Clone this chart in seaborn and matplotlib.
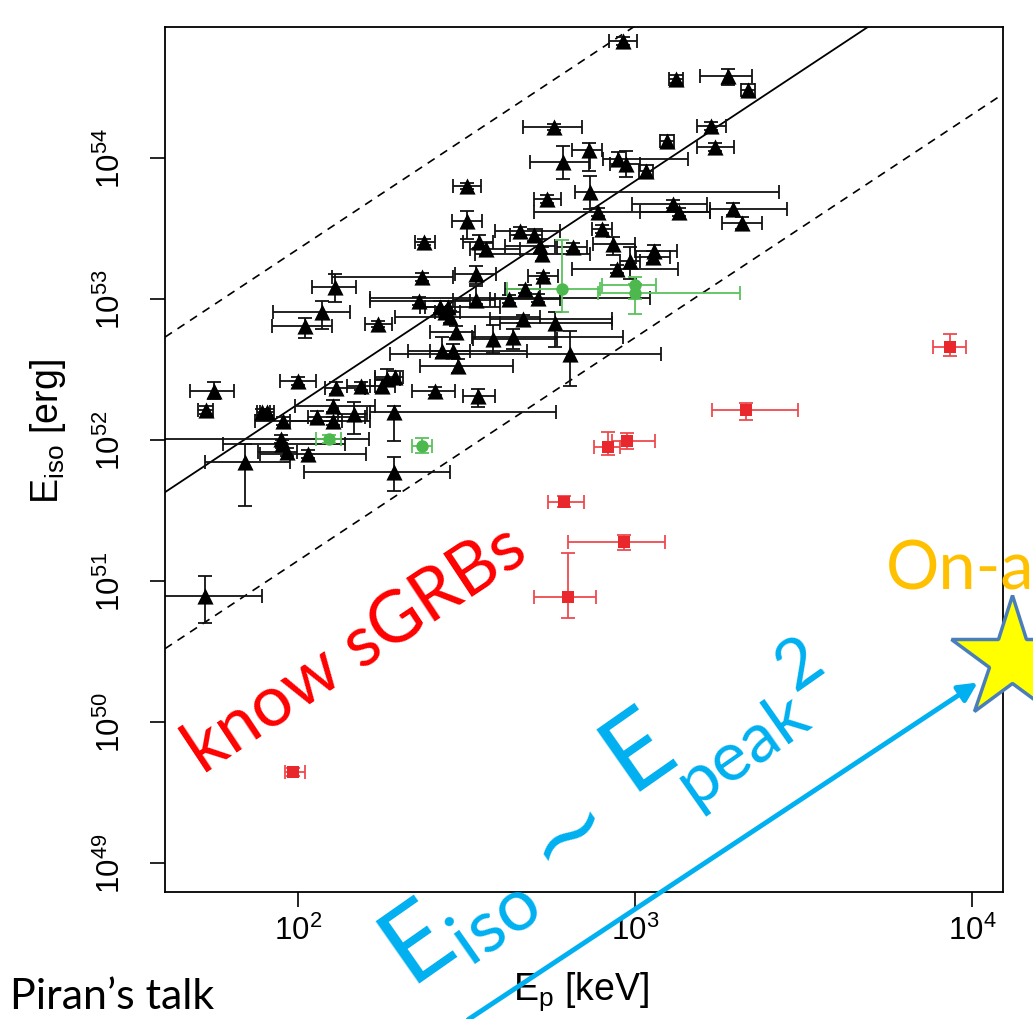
import numpy as np
import pandas as pd
import matplotlib
matplotlib.use("Agg")
import matplotlib.pyplot as plt
import seaborn as sns
from matplotlib.lines import Line2D
from matplotlib.patches import FancyArrowPatch
from matplotlib.ticker import FixedLocator, FuncFormatter, NullLocator

# Long GRBs: log10 Ep [keV], log10 Eiso [erg]; errors are in dex (left, right, down, up)
long_log_ep = [2.964, 3.122, 3.276, 3.335, 3.226, 3.237, 3.095, 2.760, 2.864, 2.786,
               2.950, 2.973, 3.033, 2.501, 2.866, 2.739, 2.890, 3.113, 3.131, 3.291,
               3.318, 2.902, 2.935, 3.056, 3.053, 2.985, 2.947, 2.659, 2.700, 2.718,
               2.724, 2.816, 2.537, 2.558, 2.374, 2.501, 2.528, 2.368, 2.727, 2.674,
               2.626, 2.712, 2.359, 2.421, 2.445, 2.436, 2.451, 2.668, 2.763, 2.579,
               2.638, 2.469, 2.427, 2.460, 2.475, 2.807, 2.288, 2.264, 2.249, 2.113,
               2.187, 2.407, 2.534, 2.285, 2.104, 2.056, 2.104, 2.166, 1.955, 1.893,
               1.908, 2.000, 1.751, 1.727, 2.110, 2.071, 2.021, 2.237, 1.950, 1.953,
               1.967, 2.030, 1.843, 2.285, 1.724, 2.528]
long_log_eiso = [54.830, 54.560, 54.582, 54.482, 54.227, 54.078, 54.121, 54.220, 54.057, 53.972,
                 53.993, 53.957, 53.908, 53.801, 53.759, 53.709, 53.617, 53.674, 53.617, 53.638,
                 53.539, 53.496, 53.390, 53.340, 53.298, 53.270, 53.213, 53.482, 53.454, 53.376,
                 53.319, 53.369, 53.404, 53.355, 53.404, 53.553, 53.177, 53.156, 53.163, 53.071,
                 53.000, 53.007, 52.986, 52.943, 52.943, 52.908, 52.872, 52.858, 52.830, 52.716,
                 52.730, 52.766, 52.631, 52.631, 52.525, 52.610, 52.447, 52.433, 52.383, 52.369,
                 52.383, 52.348, 52.312, 52.199, 52.241, 52.163, 52.135, 52.184, 52.135, 52.199,
                 52.199, 52.418, 52.348, 52.213, 53.085, 52.908, 52.809, 52.823, 52.007, 51.972,
                 51.915, 51.901, 51.844, 51.773, 50.894, 52.993]
long_ep_lo = [0.042, 0.020, 0.083, 0.020, 0.042, 0.053, 0.020, 0.092, 0.050, 0.098,
              0.045, 0.047, 0.020, 0.042, 0.045, 0.039, 0.190, 0.122, 0.116, 0.068,
              0.059, 0.030, 0.059, 0.056, 0.050, 0.030, 0.134, 0.074, 0.071, 0.104,
              0.199, 0.047, 0.047, 0.047, 0.027, 0.045, 0.062, 0.267, 0.045, 0.060,
              0.056, 0.499, 0.145, 0.045, 0.083, 0.030, 0.163, 0.098, 0.163, 0.059,
              0.122, 0.077, 0.101, 0.068, 0.113, 0.534, 0.059, 0.036, 0.036, 0.033,
              0.042, 0.068, 0.045, 0.071, 0.113, 0.027, 0.128, 0.047, 0.083, 0.015,
              0.020, 0.053, 0.071, 0.024, 0.068, 0.145, 0.098, 0.039, 0.390, 0.176,
              0.086, 0.142, 0.119, 0.267, 0.150, 0.068]
long_ep_hi = [0.042, 0.020, 0.071, 0.020, 0.045, 0.056, 0.020, 0.083, 0.039, 0.080,
              0.208, 0.042, 0.020, 0.042, 0.561, 0.042, 0.332, 0.101, 0.092, 0.160,
              0.059, 0.030, 0.065, 0.068, 0.050, 0.030, 0.181, 0.119, 0.024, 0.045,
              0.142, 0.042, 0.042, 0.100, 0.033, 0.045, 0.059, 0.092, 0.045, 0.045,
              0.151, 0.333, 0.151, 0.045, 0.154, 0.045, 0.267, 0.264, 0.169, 0.190,
              0.326, 0.056, 0.252, 0.050, 0.163, 0.270, 0.024, 0.039, 0.039, 0.086,
              0.042, 0.059, 0.050, 0.481, 0.125, 0.142, 0.110, 0.039, 0.175, 0.024,
              0.020, 0.053, 0.059, 0.021, 0.062, 0.083, 0.080, 0.042, 0.260, 0.187,
              0.030, 0.172, 0.134, 0.166, 0.169, 0.056]
long_eiso_lo = [0.03, 0.03, 0.064, 0.04, 0.03, 0.03, 0.04, 0.02, 0.15, 0.12,
                0.05, 0.09, 0.04, 0.02, 0.12, 0.03, 0.03, 0.03, 0.03, 0.04,
                0.04, 0.03, 0.08, 0.04, 0.04, 0.13, 0.03, 0.03, 0.04, 0.05,
                0.05, 0.03, 0.04, 0.04, 0.02, 0.13, 0.07, 0.03, 0.02, 0.03,
                0.03, 0.03, 0.03, 0.04, 0.04, 0.03, 0.04, 0.03, 0.17, 0.10,
                0.085, 0.04, 0.05, 0.05, 0.05, 0.227, 0.04, 0.04, 0.04, 0.04,
                0.03, 0.03, 0.078, 0.206, 0.04, 0.04, 0.03, 0.142, 0.03, 0.02,
                0.02, 0.03, 0.06, 0.03, 0.106, 0.12, 0.085, 0.02, 0.03, 0.03,
                0.03, 0.03, 0.312, 0.135, 0.191, 0.03]
long_eiso_hi = [0.03, 0.03, 0.05, 0.04, 0.03, 0.03, 0.04, 0.02, 0.05, 0.11,
                0.05, 0.09, 0.04, 0.02, 0.11, 0.03, 0.03, 0.03, 0.03, 0.04,
                0.04, 0.03, 0.05, 0.04, 0.04, 0.10, 0.03, 0.03, 0.04, 0.05,
                0.05, 0.03, 0.05, 0.04, 0.02, 0.07, 0.06, 0.03, 0.02, 0.03,
                0.03, 0.03, 0.03, 0.04, 0.04, 0.03, 0.04, 0.03, 0.08, 0.10,
                0.057, 0.04, 0.10, 0.05, 0.05, 0.163, 0.04, 0.07, 0.04, 0.04,
                0.03, 0.03, 0.05, 0.043, 0.04, 0.04, 0.03, 0.085, 0.03, 0.02,
                0.02, 0.03, 0.06, 0.03, 0.092, 0.078, 0.057, 0.02, 0.03, 0.03,
                0.03, 0.03, 0.128, 0.106, 0.142, 0.10]

# Intermediate bursts
mid_log_ep = [2.092, 2.368, 2.783, 3.000, 3.000]
mid_log_eiso = [52.007, 51.957, 53.071, 53.099, 53.043]
mid_ep_lo = [0.039, 0.030, 0.163, 0.098, 0.110]
mid_ep_hi = [0.036, 0.030, 0.113, 0.062, 0.312]
mid_eiso_lo = [0.03, 0.05, 0.163, 0.10, 0.149]
mid_eiso_hi = [0.03, 0.06, 0.347, 0.057, 0.06]

# Short GRBs
short_log_ep = [3.935, 3.329, 2.920, 2.976, 2.789, 2.967, 2.801, 1.985]
short_log_eiso = [52.660, 52.213, 51.950, 51.993, 51.560, 51.277, 50.887, 49.645]
short_ep_lo = [0.051, 0.101, 0.042, 0.044, 0.047, 0.166, 0.101, 0.024]
short_ep_hi = [0.047, 0.155, 0.035, 0.083, 0.060, 0.122, 0.083, 0.036]
short_eiso_lo = [0.064, 0.071, 0.056, 0.057, 0.035, 0.057, 0.149, 0.03]
short_eiso_hi = [0.092, 0.049, 0.107, 0.057, 0.043, 0.050, 0.312, 0.03]

# Best-fit correlation (log Eiso = a + b log Ep) and its scatter band
fit_slope = 1.582
fit_intercept = 49.09
band_up = 1.10
band_down = 1.11

decades_x = [2, 3, 4]
decades_y = [49, 50, 51, 52, 53, 54]

sns.set_theme(style="ticks")
plt.rcParams["font.family"] = ["Liberation Sans", "DejaVu Sans"]
plt.rcParams["text.color"] = "black"
plt.rcParams["axes.labelcolor"] = "black"

W, H = 1033, 1020
fig = plt.figure(figsize=(W / 100, H / 100), dpi=100)
ax = fig.add_axes([165 / W, 1 - 893 / H, (1003 - 165) / W, (893 - 28) / H])

groups = {
    "long": (long_log_ep, long_log_eiso, long_ep_lo, long_ep_hi, long_eiso_lo, long_eiso_hi),
    "mid": (mid_log_ep, mid_log_eiso, mid_ep_lo, mid_ep_hi, mid_eiso_lo, mid_eiso_hi),
    "short": (short_log_ep, short_log_eiso, short_ep_lo, short_ep_hi, short_eiso_lo, short_eiso_hi),
}
colors = {"long": "black", "mid": "#4db84d", "short": "#e8282c"}
err_colors = {"long": "#111111", "mid": "#5cc25c", "short": "#ee4a4e"}
markers = {"long": "^", "mid": "o", "short": "s"}
sizes = {"long": 135, "mid": 80, "short": 85}

frames = []
for name, (lx, ly, xl, xh, yl, yh) in groups.items():
    lx, ly = np.array(lx), np.array(ly)
    xl, xh, yl, yh = map(np.array, (xl, xh, yl, yh))
    ep, eiso = 10 ** lx, 10 ** ly
    ax.errorbar(ep, eiso,
                xerr=[ep - 10 ** (lx - xl), 10 ** (lx + xh) - ep],
                yerr=[eiso - 10 ** (ly - yl), 10 ** (ly + yh) - eiso],
                fmt="none", ecolor=err_colors[name], elinewidth=1.3,
                capsize=5, capthick=1.3, zorder=2)
    frames.append(pd.DataFrame({"Ep": ep, "Eiso": eiso, "sample": name}))

df = pd.concat(frames, ignore_index=True)
for name in groups:
    sns.scatterplot(data=df[df["sample"] == name], x="Ep", y="Eiso", ax=ax,
                    marker=markers[name], color=colors[name], s=sizes[name],
                    linewidth=0, zorder=3, legend=False)

ax.set_xscale("log")
ax.set_yscale("log")
x0, x1 = 10 ** 1.6053, 10 ** 4.092
ax.set_xlim(x0, x1)
ax.set_ylim(10 ** 48.794, 10 ** 54.929)

xx = np.array([x0, x1])
lxx = np.log10(xx)
ax.plot(xx, 10 ** (fit_intercept + fit_slope * lxx), color="black", lw=1.3, zorder=1)
ax.plot(xx, 10 ** (fit_intercept + band_up + fit_slope * lxx), color="black", lw=1.2,
        ls=(0, (5, 4)), zorder=1)
ax.plot(xx, 10 ** (fit_intercept - band_down + fit_slope * lxx), color="black", lw=1.2,
        ls=(0, (5, 4)), zorder=1)

ax.xaxis.set_major_locator(FixedLocator([10.0 ** d for d in decades_x]))
ax.yaxis.set_major_locator(FixedLocator([10.0 ** d for d in decades_y]))
ax.xaxis.set_minor_locator(NullLocator())
ax.yaxis.set_minor_locator(NullLocator())
fmt = FuncFormatter(lambda v, p: r"$\mathregular{10^{%d}}$" % round(np.log10(v)))
ax.xaxis.set_major_formatter(fmt)
ax.yaxis.set_major_formatter(fmt)
ax.tick_params(axis="both", direction="out", length=11, width=1.2, color="black",
               labelcolor="black", labelsize=22.5)
ax.tick_params(axis="x", pad=5)
ax.tick_params(axis="y", pad=16)
for lab in ax.get_yticklabels():
    lab.set_rotation(90)
    lab.set_va("center")
for sp in ax.spines.values():
    sp.set_linewidth(1.3)
    sp.set_color("black")

ax.set_xlabel(r"$\mathregular{E_p}$ [keV]", fontsize=27, color="black")
ax.set_ylabel(r"$\mathregular{E_{iso}}$ [erg]", fontsize=27, color="black")
ax.xaxis.set_label_coords(0.497, -0.089)
ax.yaxis.set_label_coords(-0.116, 0.533)


def fpos(x, y):
    return x / W, 1 - y / H


slide_font = ["Lato", "DejaVu Sans"]
blue = "#00b0f0"
fig.text(*fpos(203, 775), "know sGRBs", color="#ff0000", fontsize=51, family=slide_font,
         rotation=33.5, rotation_mode="anchor", ha="left", va="baseline")
fig.text(*fpos(886, 590), "On-a", color="#ffc000", fontsize=48, family=slide_font,
         ha="left", va="baseline")
fig.text(*fpos(10, 1009), "Piran\u2019s talk", color="black", fontsize=31, family=slide_font,
         ha="left", va="baseline")

# E_iso ~ E_peak^2, set along the arrow
rot = 35
fig.text(*fpos(411, 990), r"$\mathregular{E_{iso}}$", color=blue, fontsize=76,
         family=slide_font, rotation=rot, rotation_mode="anchor", ha="left", va="baseline")
fig.text(*fpos(570, 834), "~", color=blue, fontsize=72, family=["DejaVu Sans"],
         rotation=rot, rotation_mode="anchor", ha="center", va="center")
fig.text(*fpos(630, 792), "E", color=blue, fontsize=76,
         family=slide_font, rotation=rot, rotation_mode="anchor", ha="left", va="baseline")
fig.text(*fpos(694, 807), "peak", color=blue, fontsize=50,
         family=slide_font, rotation=rot, rotation_mode="anchor", ha="left", va="baseline")
fig.text(*fpos(800, 664), "2", color=blue, fontsize=50,
         family=slide_font, rotation=rot, rotation_mode="anchor", ha="center", va="center")

arrow = FancyArrowPatch(fpos(466, 1022), fpos(980, 682), transform=fig.transFigure,
                        arrowstyle="-|>", mutation_scale=28, color=blue, lw=3.5)
fig.add_artist(arrow)
star = Line2D([1012 / W], [1 - 660 / H], marker="*", markersize=92,
              markerfacecolor="#ffff00", markeredgecolor="#4a7ebb", markeredgewidth=2.5,
              transform=fig.transFigure)
fig.add_artist(star)

fig.savefig("out.png", dpi=100)
